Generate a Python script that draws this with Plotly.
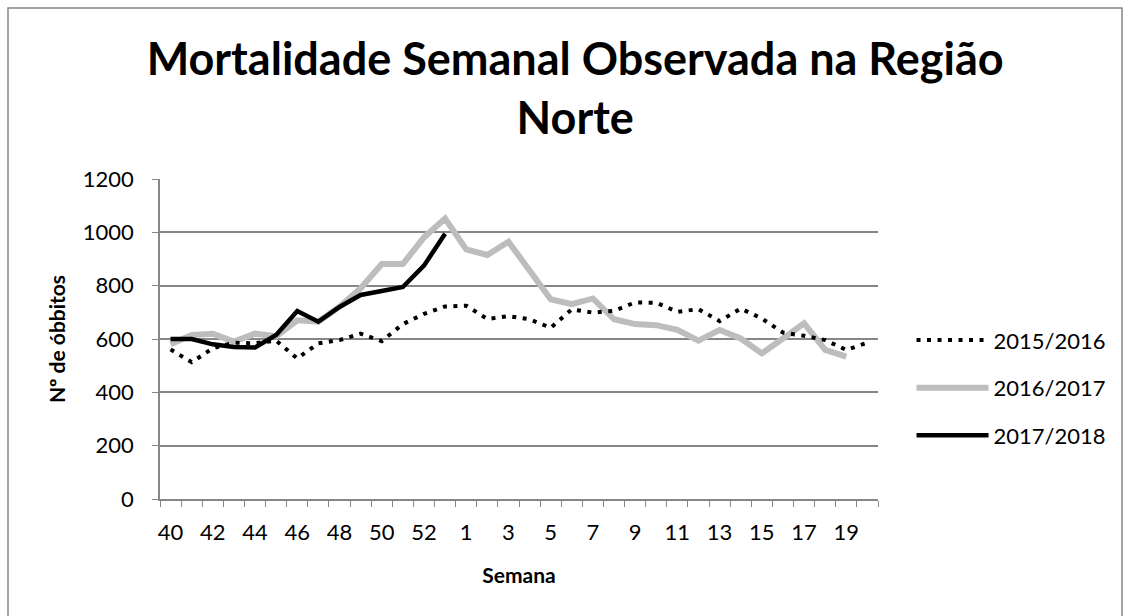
import plotly.graph_objects as go

weeks = [str(w) for w in range(40, 54)] + [str(w) for w in range(1, 21)]
tick_text = [w if i % 2 == 0 else "" for i, w in enumerate(weeks)]

s2015 = [561, 513, 565, 586, 584, 594, 527, 584, 596, 620, 592, 656, 694, 722,
         725, 675, 686, 674, 642, 711, 699, 706, 737, 736, 702, 712, 667, 714,
         677, 624, 612, 596, 559, 586]
s2016 = [580, 615, 620, 590, 620, 610, 670, 665, 721, 790, 881, 881, 981, 1052,
         936, 915, 965, 859, 749, 731, 752, 674, 656, 652, 634, 594, 634, 602,
         546, 602, 659, 559, 534]
s2017 = [600, 600, 580, 570, 568, 615, 705, 665, 720, 765, 780, 795, 875, 995]

FONT = "Lato"
GRID = "#868686"

fig = go.Figure()
fig.add_trace(go.Scatter(x=weeks[:len(s2016)], y=s2016, name="2016/2017", mode="lines",
                         line=dict(color="#BDBDBD", width=6), legendrank=2, legendgroup="b"))
fig.add_trace(go.Scatter(x=weeks[:len(s2015)], y=s2015, name="2015/2016", mode="lines",
                         line=dict(color="black", width=4, dash="4px,6.5px"), legendrank=1, legendgroup="a"))
fig.add_trace(go.Scatter(x=weeks[:len(s2017)], y=s2017, name="2017/2018", mode="lines",
                         line=dict(color="black", width=4.5), legendrank=3, legendgroup="c"))

fig.update_layout(
    width=1130, height=616,
    margin=dict(l=160, r=252, t=179, b=117, autoexpand=False),
    paper_bgcolor="white", plot_bgcolor="white",
    font=dict(family=FONT, color="black", size=22),
    title=dict(text="<b>Mortalidade Semanal Observada na Região<br>Norte</b>",
               x=0.509, xanchor="center", xref="container",
               y=1 - 75 / 616, yanchor="top", yref="container",
               font=dict(family=FONT, size=45, color="black")),
    xaxis=dict(type="category", categoryorder="array", categoryarray=weeks,
               tickmode="array", tickvals=weeks, ticktext=tick_text, tickangle=0,
               tickson="boundaries", ticks="outside", ticklen=6, tickcolor=GRID,
               showline=True, linecolor=GRID, linewidth=1.5, showgrid=False,
               ticklabelstandoff=13, range=[-0.5, 33.5], automargin=False,
               title=dict(text="<b>Semana</b>", font=dict(size=21), standoff=24)),
    yaxis=dict(range=[0, 1200], dtick=200, tick0=0, showgrid=True, gridcolor=GRID,
               gridwidth=1.5, showline=True, linecolor=GRID, linewidth=1.5,
               ticks="outside", ticklen=6, tickcolor=GRID, zeroline=False,
               ticklabelstandoff=14, automargin=False,
               title=dict(text="<b>Nº de óbbitos</b>", font=dict(size=21), standoff=11)),
    legend=dict(x=1.0467, xanchor="left", y=0.3475, yanchor="middle",
                traceorder="grouped", tracegroupgap=16, itemwidth=72,
                font=dict(size=22), bgcolor="rgba(0,0,0,0)"),
    shapes=[dict(type="rect", xref="paper", yref="paper",
                 x0=(8 - 160) / 718, x1=(1122 - 160) / 718,
                 y0=(499 - 640) / 320, y1=(499 - 8) / 320,
                 line=dict(color=GRID, width=1.5), layer="below")],
)

fig.write_html("out.html", config={"displayModeBar": False},
               post_script="document.body.style.margin='0';")
